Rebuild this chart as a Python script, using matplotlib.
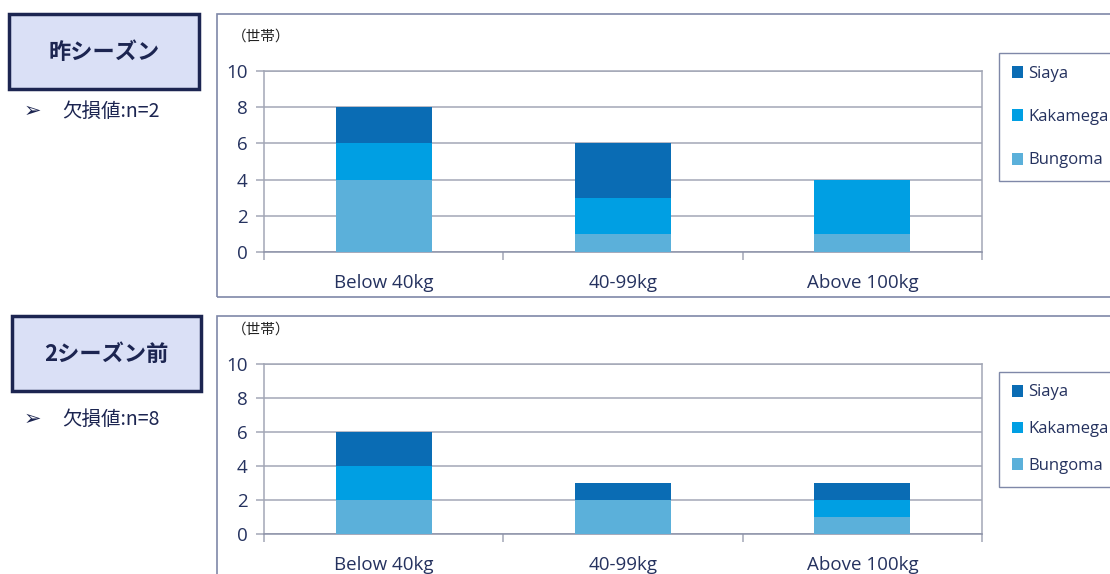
import matplotlib.pyplot as plt
from matplotlib.patches import Rectangle

categories = ["Below 40kg", "40-99kg", "Above 100kg"]
series_names = ["Bungoma", "Kakamega", "Siaya"]
colors = ["#5bb0da", "#009fe3", "#0a6cb4"]

last_bungoma = [4, 1, 1]
last_kakamega = [2, 2, 3]
last_siaya = [2, 3, 0]

prev_bungoma = [2, 2, 1]
prev_kakamega = [2, 0, 1]
prev_siaya = [2, 1, 1]

yticks = [0, 2, 4, 6, 8, 10]

W, H = 1110, 574
TXT = "#25325f"
GRID = "#a3a7b6"
JP = ["Noto Sans CJK JP", "DejaVu Sans"]
LAT = "Open Sans"

fig = plt.figure(figsize=(W / 100, H / 100), dpi=100)


def fx(px):
    return px / W


def fy(py):
    return 1 - py / H


def rect(x0, y0, x1, y1, **kw):
    fig.patches.append(Rectangle((fx(x0), fy(y1)), fx(x1 - x0), (y1 - y0) / H,
                                 transform=fig.transFigure, clip_on=False, **kw))


title_note = {"昨シーズン": "欠損値:n=2", "2シーズン前": "欠損値:n=8"}


def panel(top, bottom, values, frame, leg, title, title_box, note_y):
    # outer chart frame
    rect(frame[0], frame[1], frame[2], frame[3], fill=False, ec="#7f88a8", lw=1.2)
    ax = fig.add_axes([fx(264), fy(bottom), fx(982 - 264), (bottom - top) / H])
    x = range(len(categories))
    base = [0] * len(categories)
    handles = []
    for name, vals, c in zip(series_names, values, colors):
        b = ax.bar(x, vals, bottom=base, width=0.4, color=c, label=name, zorder=3)
        handles.append(b)
        base = [p + q for p, q in zip(base, vals)]
    ax.set_xlim(-0.5, len(categories) - 0.5)
    ax.set_ylim(0, 10)
    ax.set_yticks(yticks)
    ax.set_yticklabels([str(t) for t in yticks], fontfamily=LAT, fontsize=13.5, color=TXT)
    ax.yaxis.grid(True, color=GRID, lw=1.1, zorder=0)
    ax.set_xticks(list(x))
    ax.set_xticklabels(categories, fontfamily=LAT, fontsize=13.5, color=TXT)
    ax.set_xticks([-0.5, 0.5, 1.5, 2.5], minor=True)
    ax.tick_params(axis="x", which="major", length=0, pad=16)
    ax.tick_params(axis="x", which="minor", length=6, color=GRID, width=1.1)
    ax.tick_params(axis="y", length=6, color=GRID, width=1.1, pad=6)
    for s in ax.spines.values():
        s.set_color(GRID)
        s.set_linewidth(1.1)
    ax.spines["bottom"].set_color("#8c92a8")
    fig.text(fx(232), fy(top - 34), "（世帯）", family=JP, fontsize=10.5, color="#222222",
             va="center")
    ax.legend(handles[::-1], series_names[::-1], loc="upper left",
              bbox_to_anchor=(fx(leg[0]), fy(leg[1])), bbox_transform=fig.transFigure,
              fancybox=False, edgecolor="#7f88a8", framealpha=1,
              prop={"family": LAT, "size": 12}, labelcolor=TXT,
              handlelength=0.7, handleheight=0.7, handletextpad=0.3,
              labelspacing=leg[2], borderpad=0.75, borderaxespad=0)
    # left title box
    rect(title_box[0], title_box[1], title_box[2], title_box[3],
         fc="#dae0f6", ec="#1c2551", lw=2.5)
    fig.text(fx((title_box[0] + title_box[2]) / 2), fy((title_box[1] + title_box[3]) / 2 + 1),
             title, family=JP, fontsize=16, fontweight="bold", color="#1c2551",
             ha="center", va="center")
    fig.text(fx(24), fy(note_y), "➢", family=["DejaVu Sans"], fontsize=15,
             color="#1c2551", va="center")
    fig.text(fx(62), fy(note_y), title_note[title], family=JP, fontsize=14,
             color="#1c2551", va="center")


panel(71, 252, [last_bungoma, last_kakamega, last_siaya],
      (217, 14, 1120, 297), (999, 53, 1.65), "昨シーズン", (9, 14, 199, 89), 111)
panel(364, 534, [prev_bungoma, prev_kakamega, prev_siaya],
      (217, 316, 1120, 590), (999, 372, 1.25), "2シーズン前", (12, 316, 201, 391), 419)

fig.savefig("out.png", dpi=100)
